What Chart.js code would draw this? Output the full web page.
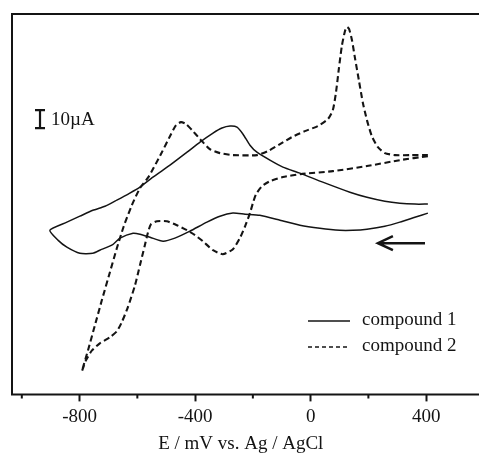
<!DOCTYPE html>
<html><head><meta charset="utf-8">
<script src="https://cdn.jsdelivr.net/npm/chart.js@4.4.1/dist/chart.umd.min.js"></script>
<style>html,body{margin:0;padding:0;background:#fff;overflow:hidden}#wrap{width:479px;height:459px}</style>
</head><body><div id="wrap"><canvas id="c" width="479" height="459"></canvas></div>
<script>
// ---- data (E in mV vs Ag/AgCl, I in µA, relative) ----
const compound1E = [406,361,309,257,195,146,101,32,-37,-106,-176,-227,-269,-314,-359,-418,-470,-511,-556,-591,-615,-660,-684,-730,-754,-799,-844,-875,-903,
  -844,-799,-754,-712,-671,-626,-591,-546,-487,-428,-383,-338,-307,-279,-255,-234,-210,-186,-141,-96,-37,42,136,195,257,309,361,406];
const compound1I = [20.6,18.3,15.6,13.3,11.7,11.1,11.1,12.2,13.9,16.7,19.4,20.0,20.6,18.9,15.6,10.6,6.7,5.0,7.2,8.9,9.4,6.7,3.3,0,-1.7,-1.7,1.7,5.6,11.1,
  15.6,18.9,22.2,24.4,27.8,31.7,35.0,40.6,47.2,54.4,60.0,65.0,67.8,68.9,68.3,64.4,58.3,54.4,50.0,46.1,42.8,37.8,32.2,29.4,27.2,26.1,25.6,25.6];
const compound2E = [406,309,195,77,-37,-96,-141,-168,-189,-200,-210,-227,-245,-269,-304,-338,-373,-400,-428,-463,-498,-532,-553,-563,-574,-591,-608,-633,-654,-671,-695,-730,-757,-778,-792,
  -771,-747,-723,-695,-671,-647,-619,-591,-560,-515,-487,-466,-449,-431,-411,-383,-349,-314,-269,-186,-148,-106,-65,-20,25,60,77,88,98,108,119,126,133,143,153,167,181,195,212,233,257,292,344,406];
const compound2I = [52.2,50.0,46.7,43.9,42.2,40.6,38.3,35.6,31.1,26.1,20.6,13.3,6.7,0.6,-2.2,0,5.0,8.3,11.1,13.9,16.1,16.1,14.4,10.0,2.8,-8.3,-19.4,-31.7,-40.0,-45.0,-48.3,-51.7,-55.6,-61.1,-67.2,
  -55.6,-41.7,-27.8,-12.2,1.1,13.3,25.0,34.4,41.0,54.4,63.3,69.4,71.1,70.0,66.7,61.7,56.1,53.9,52.8,52.8,55.0,58.9,62.8,66.1,68.9,72.8,77.8,87.8,101.1,113.3,121.7,123.9,122.8,116.7,107.2,94.4,81.7,72.2,63.3,57.2,53.9,52.8,52.8,52.8];
const seriesNames = ['compound 1', 'compound 2'];
const xTickValues = [-1000, -800, -600, -400, -200, 0, 200, 400];
const xLabelValues = [-800, -400, 0, 400];
const xTitle = 'E / mV vs. Ag / AgCl';
const scaleBarText = '10\u00B5A';
const scaleBarSize = 10;      // µA
const scaleBarAnchor = [-937, 67.8];   // E, I of bar bottom
const scanArrow = [396, 233, 3.9];     // from E, to E, at I

const ink = '#141414';
const serif = 'Liberation Serif, Times New Roman, serif';

const pts = (xs, ys) => xs.map((v, i) => ({x: v, y: ys[i]}));

const decor = {
  id: 'decor',
  afterDraw(chart) {
    const {ctx, chartArea: a, scales: {x, y}} = chart;
    ctx.save();
    ctx.strokeStyle = ink; ctx.fillStyle = ink;
    // frame
    ctx.lineWidth = 2;
    ctx.beginPath();
    ctx.moveTo(a.right + 2, a.top); ctx.lineTo(a.left, a.top); ctx.lineTo(a.left, a.bottom); ctx.lineTo(a.right + 2, a.bottom);
    ctx.stroke();
    // minor ticks
    ctx.beginPath();
    xTickValues.filter(v => !xLabelValues.includes(v)).forEach(v => {
      const px = x.getPixelForValue(v);
      ctx.moveTo(px, a.bottom); ctx.lineTo(px, a.bottom + 4);
    });
    ctx.stroke();
    // scale bar
    const bx = x.getPixelForValue(scaleBarAnchor[0]);
    const by0 = y.getPixelForValue(scaleBarAnchor[1]);
    const by1 = y.getPixelForValue(scaleBarAnchor[1] + scaleBarSize);
    ctx.lineWidth = 2.2;
    ctx.beginPath();
    ctx.moveTo(bx, by0); ctx.lineTo(bx, by1);
    ctx.moveTo(bx - 5, by0); ctx.lineTo(bx + 5, by0);
    ctx.moveTo(bx - 5, by1); ctx.lineTo(bx + 5, by1);
    ctx.stroke();
    ctx.font = '19px ' + serif;
    ctx.textAlign = 'left'; ctx.textBaseline = 'middle';
    ctx.fillText(scaleBarText, bx + 11, (by0 + by1) / 2 + 1);
    // scan direction arrow
    const ax0 = x.getPixelForValue(scanArrow[0]);
    const ax1 = x.getPixelForValue(scanArrow[1]);
    const ay = y.getPixelForValue(scanArrow[2]);
    ctx.lineWidth = 2.5;
    ctx.beginPath();
    ctx.moveTo(ax0, ay); ctx.lineTo(ax1, ay);
    ctx.moveTo(ax1 + 15, ay - 7); ctx.lineTo(ax1, ay); ctx.lineTo(ax1 + 15, ay + 7);
    ctx.stroke();
    // legend
    chart.data.datasets.forEach((ds, i) => {
      const ly = a.top + 307 + i * 26;
      const lx = a.left + 296;
      ctx.lineWidth = 1.6;
      ctx.setLineDash(ds.borderDash && ds.borderDash.length ? [4, 3] : []);
      ctx.beginPath(); ctx.moveTo(lx, ly); ctx.lineTo(lx + 42, ly); ctx.stroke();
      ctx.setLineDash([]);
      ctx.fillText(ds.label, lx + 54, ly - 1);
    });
    ctx.restore();
  }
};

new Chart(document.getElementById('c'), {
  type: 'line',
  data: {
    datasets: [
      {label: seriesNames[0], data: pts(compound1E, compound1I), borderColor: ink, borderWidth: 1.5, pointRadius: 0, tension: 0.2, fill: false},
      {label: seriesNames[1], data: pts(compound2E, compound2I), borderColor: ink, borderWidth: 2.1, borderDash: [6, 3.5], pointRadius: 0, tension: 0.2, fill: false}
    ]
  },
  options: {
    responsive: false,
    animation: false,
    devicePixelRatio: 1,
    layout: {padding: {left: 12, top: 14, right: 0, bottom: 4}},
    plugins: {legend: {display: false}, tooltip: {enabled: false}},
    scales: {
      x: {
        type: 'linear', min: -1034, max: 583,
        afterBuildTicks: s => { s.ticks = xTickValues.map(v => ({value: v})); },
        ticks: {
          callback: v => xLabelValues.includes(v) ? String(v) : '',
          font: {family: serif, size: 19}, color: ink, padding: 4, maxRotation: 0, autoSkip: false
        },
        grid: {drawOnChartArea: false, drawTicks: true, tickLength: 7, tickWidth: 2,
          tickColor: c => (c.tick && xLabelValues.includes(c.tick.value)) ? ink : 'rgba(0,0,0,0)'},
        border: {display: false},
        title: {display: true, text: xTitle + '  ', font: {family: serif, size: 19}, color: ink, padding: {top: 0, bottom: 0}}
      },
      y: {type: 'linear', display: false, min: -80, max: 131.1}
    }
  },
  plugins: [decor]
});
</script>
</body></html>
